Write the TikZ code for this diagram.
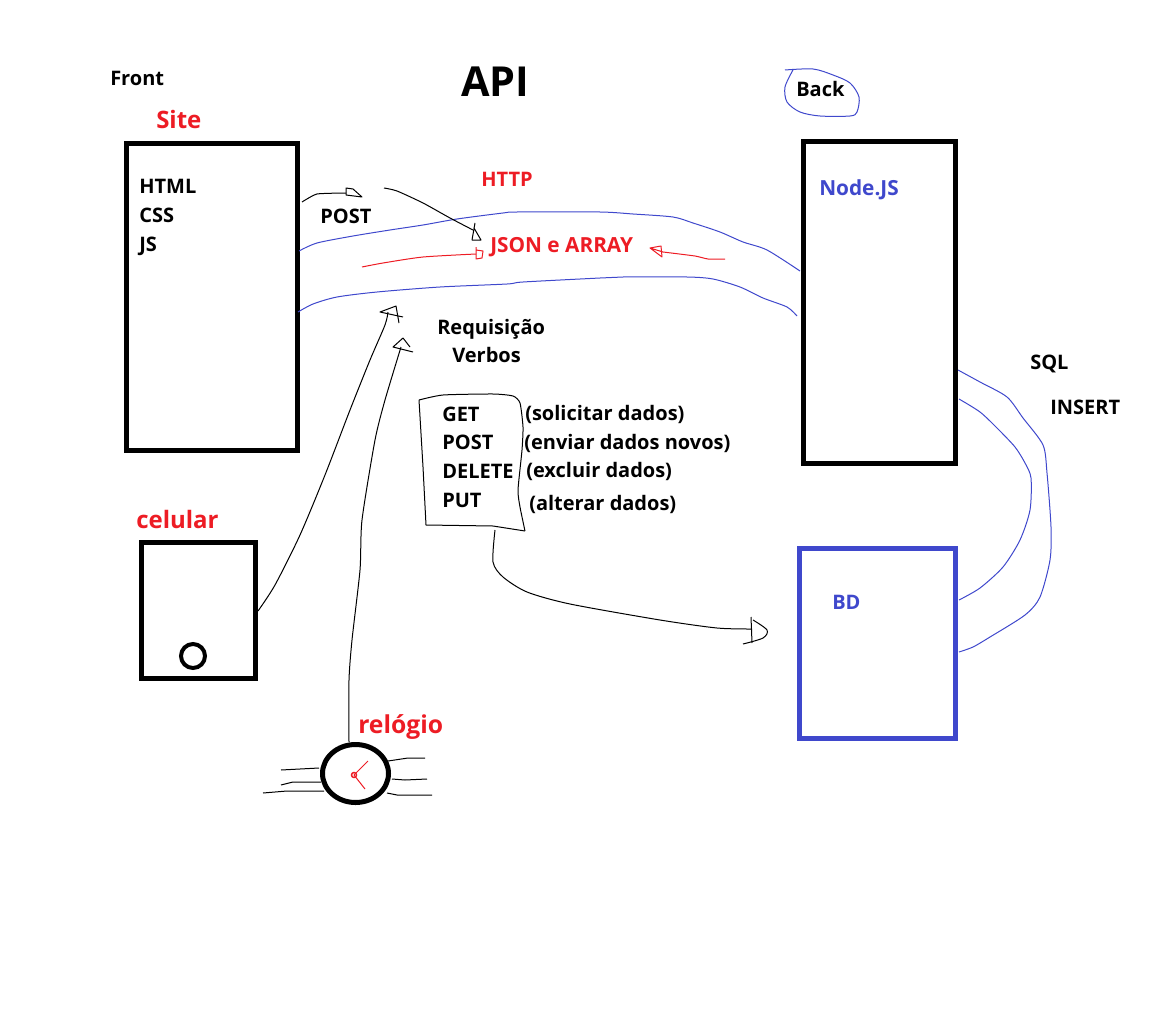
\documentclass[tikz,border=0pt]{standalone}
\usepackage{fontspec}
\usetikzlibrary{shapes.geometric}
\setmainfont{Open Sans}
\definecolor{pblue}{HTML}{3F48CC}
\definecolor{pred}{HTML}{ED1C24}
\tikzset{
  lab/.style={anchor=base west,inner sep=0pt,yshift=-0.5pt,font=\fontsize{15}{15}\selectfont\bfseries},
  labw/.style={anchor=base west,inner sep=0pt,yshift=-0.5pt,font=\fontsize{15.6}{15.6}\selectfont\bfseries},
  big/.style={anchor=base west,inner sep=0pt,yshift=-0.5pt,font=\fontsize{18}{18}\selectfont\bfseries,text=pred},
  thin ink/.style={line width=0.75pt,line join=round},
  curve/.style={thin ink},
}
\begin{document}
\begin{tikzpicture}[x=0.75pt,y=-0.75pt]
\useasboundingbox (0,0) rectangle (1152,1020);
% boxes
\node[draw=black,line width=3.75pt,minimum width=128.25pt,minimum height=229.5pt,inner sep=0pt] (site) at (211.5,297) {};
\node[draw=black,line width=3.75pt,minimum width=114pt,minimum height=241.5pt,inner sep=0pt] (nodejs) at (879.5,302.5) {};
\node[draw=pblue,line width=3.75pt,minimum width=117pt,minimum height=142.5pt,inner sep=0pt] (bd) at (877.5,643.5) {};
\node[draw=black,line width=3.75pt,minimum width=85.5pt,minimum height=101.5pt,inner sep=0pt] (phone) at (198.5,610.5) {};
\node[draw=black,line width=3pt,circle,minimum size=18pt,inner sep=0pt] (button) at (193,656) {};
\node[draw=black,line width=3.75pt,ellipse,minimum width=49.5pt,minimum height=43.5pt,inner sep=0pt] (watch) at (355.5,773.5) {};
% texts
\node[lab] (tfront) at (110,85) {Front};
\node[big] (tsite) at (156,128) {Site};
\node[anchor=base west,inner sep=0pt,font=\fontsize{31}{31}\selectfont\bfseries] (tapi) at (461,97) {API};
\node[lab,text=pred] (thttp) at (481,186) {HTTP};
\node[lab] (tback) at (796,96) {Back};
\node[labw,text=pblue] (tnode) at (819,195) {Node.JS};
\node[lab] (thtml) at (139,193) {HTML};
\node[lab] (tcss) at (139,222) {CSS};
\node[lab] (tjs) at (139,251) {JS};
\node[lab] (tpost) at (320,223) {POST};
\node[labw,text=pred] (tjson) at (490,252) {JSON e ARRAY};
\node[lab] (treq) at (437,334) {Requisição};
\node[lab] (tverbos) at (452,362) {Verbos};
\node[lab] (vget) at (442,421) {GET};
\node[lab] (vpost) at (442,449) {POST};
\node[lab] (vdel) at (442,478) {DELETE};
\node[lab] (vput) at (442,507) {PUT};
\node[lab] (dget) at (525,420) {(solicitar dados)};
\node[lab] (dpost) at (524,449) {(enviar dados novos)};
\node[lab] (ddel) at (526,477) {(excluir dados)};
\node[lab] (dput) at (529,510) {(alterar dados)};
\node[lab] (tsql) at (1030,369) {SQL};
\node[lab] (tins) at (1050,414) {INSERT};
\node[big] (tcel) at (136,528) {celular};
\node[big,font=\fontsize{18.5}{18.5}\selectfont\bfseries] (trel) at (358,733) {relógio};
\node[lab,text=pblue] (tbd) at (832,609) {BD};
% Back outline
\draw[thin ink,pblue] plot[smooth,tension=0.5] coordinates {(785,70) (813,69) (833,75) (850,83) (859,97) (857,112) (850,116) (820,116) (800,112) (787,102) (785,87) (793,70)};
% HTTP pipe
\draw[pblue,curve] plot[smooth,tension=0.45] coordinates {(299,251) (317,243) (353,236) (390,230) (423,225) (457,219) (503,213) (517,212) (600,212) (633,214) (673,217) (693,223) (720,232) (743,242) (767,250) (800,271)};
\draw[pblue,curve] plot[smooth,tension=0.45] coordinates {(298,312) (313,304) (337,297) (377,292) (440,287) (507,284) (523,282) (600,278) (623,277) (687,277) (713,279) (740,287) (763,298) (787,307) (797,316)};
% SQL pipe
\draw[pblue,curve] plot[smooth,tension=0.45] coordinates {(958,370) (980,382) (1007,397) (1023,418) (1043,445) (1047,473) (1051,527) (1050,560) (1040,597) (1025,615) (990,637) (973,647) (959,652)};
\draw[pblue,curve] plot[smooth,tension=0.45] coordinates {(959,399) (980,412) (997,428) (1015,447) (1025,463) (1031,478) (1030,510) (1020,540) (1003,567) (980,588) (959,600)};
% POST arrow
\draw[thin ink] plot[smooth,tension=0.3] coordinates {(302,202) (317,194) (346,193)};
\draw[thin ink] (346,195) -- (346,188) -- (353,189) -- (362,197) -- (346,195);
% POST to JSON arc
\draw[thin ink] plot[smooth,tension=0.4] coordinates {(384,188) (397,191) (423,203) (450,218) (473,230)};
\draw[thin ink] (475,223) -- (472,240) -- (481,240) -- (474,228);
% red arrows
\draw[thin ink,pred] plot[smooth,tension=0.4] coordinates {(362,267) (383,263) (423,257) (476,254)};
\draw[thin ink,pred] (476,247) -- (476,259) -- (482,258) -- (483,251) -- (476,250);
\draw[thin ink,pred] plot[smooth,tension=0.3] coordinates {(725,259) (708,259) (695,256) (663,252)};
\draw[thin ink,pred] (650,248) -- (661,246) -- (662,257) -- (650,248) -- (663,252);
% phone to pipe
\draw[thin ink] plot[smooth,tension=0.45] coordinates {(258,611) (275,585) (300,535) (325,475) (350,410) (370,360) (385,325) (388,312)};
\draw[thin ink] (403,317) -- (380,312) -- (396,306) -- (399,323);
% watch to pipe
\draw[thin ink] plot[smooth,tension=0.4] coordinates {(349,742) (349,680) (352,640) (360,570) (362,520) (375,440) (385,400) (401,347)};
\draw[thin ink] (413,352) -- (393,347) -- (403,338) -- (410,347);
% verbs sheet
\draw[thin ink] plot[smooth,tension=0.35] coordinates {(419,400) (443,395) (493,394) (513,396) (520,403) (523,427) (522,450) (518,490) (520,507) (525,531)};
\draw[thin ink] (525,531) -- (493,526) -- (426,525) -- (423,467) -- (419,400);
% sheet to BD
\draw[thin ink] plot[smooth,tension=0.45] coordinates {(495,530) (493,562) (503,577) (527,592) (570,604) (660,620) (717,628) (752,629)};
\draw[thin ink] (751,617) -- (752,643);
\draw[thin ink] plot[smooth,tension=0.5] coordinates {(753,620) (767,630) (763,638) (743,644)};
% watch straps and hands
\draw[thin ink] (281,770) -- (319,768);
\draw[thin ink] (281,785) -- (293,782) -- (321,782);
\draw[thin ink] (263,793) -- (287,791) -- (324,791);
\draw[thin ink] (388,761) -- (408,758) -- (425,758);
\draw[thin ink] (392,779) -- (405,780) -- (427,779);
\draw[thin ink] (387,793) -- (397,795) -- (432,795);
\draw[thin ink,pred] (368,761) -- (354,775) -- (365,789);
\draw[line width=1.1pt,pred] (354,775) circle (2.5);
\end{tikzpicture}
\end{document}
